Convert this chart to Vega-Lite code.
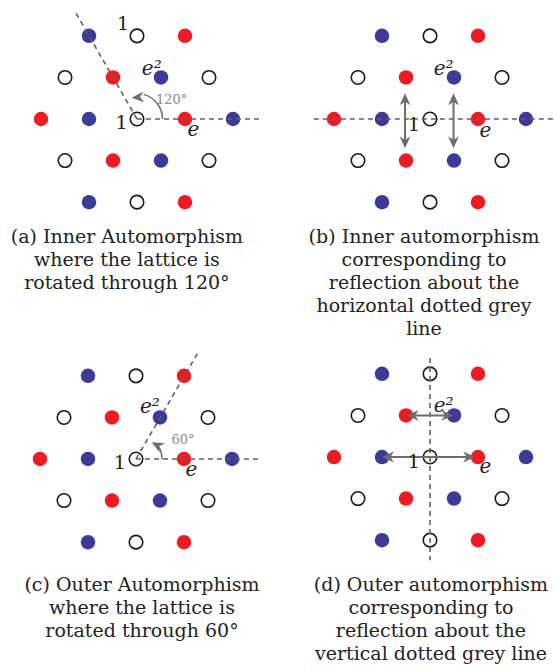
{
  "$schema": "https://vega.github.io/schema/vega-lite/v6.json",
  "padding": 0,
  "spacing": 0,
  "columns": 2,
  "bounds": "flush",
  "background": "white",
  "config": {"view": {"stroke": null}, "concat": {"spacing": 0}},
  "datasets": {
    "lattice": [
      {"x": -1, "y": 1.732, "kind": "blue"}, {"x": 0, "y": 1.732, "kind": "open"}, {"x": 1, "y": 1.732, "kind": "red"},
      {"x": -1.5, "y": 0.866, "kind": "open"}, {"x": -0.5, "y": 0.866, "kind": "red"}, {"x": 0.5, "y": 0.866, "kind": "blue"}, {"x": 1.5, "y": 0.866, "kind": "open"},
      {"x": -2, "y": 0, "kind": "red"}, {"x": -1, "y": 0, "kind": "blue"}, {"x": 0, "y": 0, "kind": "open"}, {"x": 1, "y": 0, "kind": "red"}, {"x": 2, "y": 0, "kind": "blue"},
      {"x": -1.5, "y": -0.866, "kind": "open"}, {"x": -0.5, "y": -0.866, "kind": "red"}, {"x": 0.5, "y": -0.866, "kind": "blue"}, {"x": 1.5, "y": -0.866, "kind": "open"},
      {"x": -1, "y": -1.732, "kind": "blue"}, {"x": 0, "y": -1.732, "kind": "open"}, {"x": 1, "y": -1.732, "kind": "red"}
    ]
  },
  "concat": [
    {
      "width": 277, "height": 335,
      "encoding": {
        "x": {"field": "x", "type": "quantitative", "scale": {"domain": [-2.8542, 2.9167], "nice": false, "zero": false}, "axis": null},
        "y": {"field": "y", "type": "quantitative", "scale": {"domain": [-4.5, 2.4792], "nice": false, "zero": false}, "axis": null}
      },
      "layer": [
        {"data": {"name": "lattice"}, "transform": [{"filter": "datum.kind !== 'open'"}], "mark": {"type": "point", "filled": true, "size": 210, "opacity": 1}, "encoding": {"color": {"field": "kind", "type": "nominal", "scale": {"domain": ["blue", "red"], "range": ["#3b3b98", "#ed1c24"]}, "legend": null}}},
        {"data": {"name": "lattice"}, "transform": [{"filter": "datum.kind === 'open'"}], "mark": {"type": "point", "filled": false, "size": 182, "color": "#1a1a1a", "strokeWidth": 1.6, "opacity": 1}},
        {"data": {"values": [{"x": 0, "y": 0, "x2": 2.62, "y2": 0}, {"x": 0, "y": 0, "x2": -1.275, "y2": 2.21}]}, "mark": {"type": "rule", "color": "#606060", "strokeWidth": 1.6, "strokeDash": [5, 4]}, "encoding": {"x2": {"field": "x2"}, "y2": {"field": "y2"}}},
        {"data": {"values": [{"x": 0, "y": 0}]}, "mark": {"type": "arc", "theta": 0.2618, "theta2": 1.5708, "radius": 25.5, "radius2": 25.5, "fillOpacity": 0, "stroke": "#6d6d6d", "strokeWidth": 1.5}},
        {"data": {"values": [{"x": -0.11, "y": 0.444, "dir": 176}]}, "mark": {"type": "point", "shape": "M0,0L-2,-0.9L-1.4,0L-2,0.9Z", "filled": true, "color": "#6d6d6d", "size": 144, "opacity": 1}, "encoding": {"angle": {"field": "dir", "type": "quantitative", "scale": null}}},
        {"data": {"values": [{"x": -0.29, "y": 1.854, "t": "1"}, {"x": -0.32, "y": -0.21, "t": "1"}]}, "mark": {"type": "text", "font": "DejaVu Serif", "fontSize": 19, "align": "center", "baseline": "alphabetic", "color": "#222222"}, "encoding": {"text": {"field": "t"}}},
        {"data": {"values": [{"x": 1.05, "y": -0.35, "t": "e"}, {"x": 0.1, "y": 0.917, "t": "e²"}]}, "mark": {"type": "text", "font": "DejaVu Serif", "fontStyle": "italic", "fontSize": 20, "align": "left", "baseline": "alphabetic", "color": "#222222"}, "encoding": {"text": {"field": "t"}}},
        {"data": {"values": [{"x": 0.72, "y": 0.31, "t": "120°"}]}, "mark": {"type": "text", "font": "DejaVu Serif", "fontSize": 13, "align": "center", "baseline": "alphabetic", "color": "#8a8a8a"}, "encoding": {"text": {"field": "t"}}},
        {"data": {"values": [{"x": -0.21, "y": -2.458, "t": "(a) Inner Automorphism\nwhere the lattice is\nrotated through 120°"}]}, "mark": {"type": "text", "font": "DejaVu Serif", "fontSize": 19, "lineBreak": "\n", "lineHeight": 23, "align": "center", "baseline": "middle", "color": "#222222"}, "encoding": {"text": {"field": "t"}}}
      ]
    },
    {
      "width": 277, "height": 335,
      "encoding": {
        "x": {"field": "x", "type": "quantitative", "scale": {"domain": [-3.1875, 2.5833], "nice": false, "zero": false}, "axis": null},
        "y": {"field": "y", "type": "quantitative", "scale": {"domain": [-4.5, 2.4792], "nice": false, "zero": false}, "axis": null}
      },
      "layer": [
        {"data": {"name": "lattice"}, "transform": [{"filter": "datum.kind !== 'open'"}], "mark": {"type": "point", "filled": true, "size": 210, "opacity": 1}, "encoding": {"color": {"field": "kind", "type": "nominal", "scale": {"domain": ["blue", "red"], "range": ["#3b3b98", "#ed1c24"]}, "legend": null}}},
        {"data": {"name": "lattice"}, "transform": [{"filter": "datum.kind === 'open'"}], "mark": {"type": "point", "filled": false, "size": 182, "color": "#1a1a1a", "strokeWidth": 1.6, "opacity": 1}},
        {"data": {"values": [{"x": -2.42, "y": 0, "x2": 2.583, "y2": 0}]}, "mark": {"type": "rule", "color": "#606060", "strokeWidth": 1.6, "strokeDash": [5, 4]}, "encoding": {"x2": {"field": "x2"}, "y2": {"field": "y2"}}},
        {"data": {"values": [{"x": -0.52, "y": 0.45, "x2": -0.52, "y2": -0.52}, {"x": 0.49, "y": 0.45, "x2": 0.49, "y2": -0.52}]}, "mark": {"type": "rule", "color": "#6d6d6d", "strokeWidth": 2}, "encoding": {"x2": {"field": "x2"}, "y2": {"field": "y2"}}},
        {"data": {"values": [{"x": -0.52, "y": 0.535, "dir": 270}, {"x": -0.52, "y": -0.61, "dir": 90}, {"x": 0.49, "y": 0.535, "dir": 270}, {"x": 0.49, "y": -0.61, "dir": 90}]}, "mark": {"type": "point", "shape": "M0,0L-2,-0.9L-1.4,0L-2,0.9Z", "filled": true, "color": "#6d6d6d", "size": 144, "opacity": 1}, "encoding": {"angle": {"field": "dir", "type": "quantitative", "scale": null}}},
        {"data": {"values": [{"x": -0.34, "y": -0.24, "t": "1"}]}, "mark": {"type": "text", "font": "DejaVu Serif", "fontSize": 19, "align": "center", "baseline": "alphabetic", "color": "#222222"}, "encoding": {"text": {"field": "t"}}},
        {"data": {"values": [{"x": 1.03, "y": -0.37, "t": "e"}, {"x": 0.077, "y": 0.917, "t": "e²"}]}, "mark": {"type": "text", "font": "DejaVu Serif", "fontStyle": "italic", "fontSize": 20, "align": "left", "baseline": "alphabetic", "color": "#222222"}, "encoding": {"text": {"field": "t"}}},
        {"data": {"values": [{"x": -0.125, "y": -2.458, "t": "(b) Inner automorphism\ncorresponding to\nreflection about the\nhorizontal dotted grey\nline"}]}, "mark": {"type": "text", "font": "DejaVu Serif", "fontSize": 19, "lineBreak": "\n", "lineHeight": 23, "align": "center", "baseline": "middle", "color": "#222222"}, "encoding": {"text": {"field": "t"}}}
      ]
    },
    {
      "width": 277, "height": 336,
      "encoding": {
        "x": {"field": "x", "type": "quantitative", "scale": {"domain": [-2.8333, 2.9375], "nice": false, "zero": false}, "axis": null},
        "y": {"field": "y", "type": "quantitative", "scale": {"domain": [-4.4167, 2.5833], "nice": false, "zero": false}, "axis": null}
      },
      "layer": [
        {"data": {"name": "lattice"}, "transform": [{"filter": "datum.kind !== 'open'"}], "mark": {"type": "point", "filled": true, "size": 210, "opacity": 1}, "encoding": {"color": {"field": "kind", "type": "nominal", "scale": {"domain": ["blue", "red"], "range": ["#3b3b98", "#ed1c24"]}, "legend": null}}},
        {"data": {"name": "lattice"}, "transform": [{"filter": "datum.kind === 'open'"}], "mark": {"type": "point", "filled": false, "size": 182, "color": "#1a1a1a", "strokeWidth": 1.6, "opacity": 1}},
        {"data": {"values": [{"x": 0, "y": 0, "x2": 2.62, "y2": 0}, {"x": 0, "y": 0, "x2": 1.31, "y2": 2.25}]}, "mark": {"type": "rule", "color": "#606060", "strokeWidth": 1.6, "strokeDash": [5, 4]}, "encoding": {"x2": {"field": "x2"}, "y2": {"field": "y2"}}},
        {"data": {"values": [{"x": 0, "y": 0}]}, "mark": {"type": "arc", "theta": 1.0996, "theta2": 1.5708, "radius": 26, "radius2": 26, "fillOpacity": 0, "stroke": "#6d6d6d", "strokeWidth": 1.5}},
        {"data": {"values": [{"x": 0.327, "y": 0.348, "dir": 208}]}, "mark": {"type": "point", "shape": "M0,0L-2,-0.9L-1.4,0L-2,0.9Z", "filled": true, "color": "#6d6d6d", "size": 144, "opacity": 1}, "encoding": {"angle": {"field": "dir", "type": "quantitative", "scale": null}}},
        {"data": {"values": [{"x": -0.34, "y": -0.215, "t": "1"}]}, "mark": {"type": "text", "font": "DejaVu Serif", "fontSize": 19, "align": "center", "baseline": "alphabetic", "color": "#222222"}, "encoding": {"text": {"field": "t"}}},
        {"data": {"values": [{"x": 1.03, "y": -0.354, "t": "e"}, {"x": 0.083, "y": 0.95, "t": "e²"}]}, "mark": {"type": "text", "font": "DejaVu Serif", "fontStyle": "italic", "fontSize": 20, "align": "left", "baseline": "alphabetic", "color": "#222222"}, "encoding": {"text": {"field": "t"}}},
        {"data": {"values": [{"x": 0.98, "y": 0.31, "t": "60°"}]}, "mark": {"type": "text", "font": "DejaVu Serif", "fontSize": 13, "align": "center", "baseline": "alphabetic", "color": "#8a8a8a"}, "encoding": {"text": {"field": "t"}}},
        {"data": {"values": [{"x": 0.125, "y": -2.625, "t": "(c) Outer Automorphism\nwhere the lattice is\nrotated through 60°"}]}, "mark": {"type": "text", "font": "DejaVu Serif", "fontSize": 19, "lineBreak": "\n", "lineHeight": 23, "align": "center", "baseline": "middle", "color": "#222222"}, "encoding": {"text": {"field": "t"}}}
      ]
    },
    {
      "width": 277, "height": 336,
      "encoding": {
        "x": {"field": "x", "type": "quantitative", "scale": {"domain": [-3.1875, 2.5833], "nice": false, "zero": false}, "axis": null},
        "y": {"field": "y", "type": "quantitative", "scale": {"domain": [-4.4583, 2.5417], "nice": false, "zero": false}, "axis": null}
      },
      "layer": [
        {"data": {"name": "lattice"}, "transform": [{"filter": "datum.kind !== 'open'"}], "mark": {"type": "point", "filled": true, "size": 210, "opacity": 1}, "encoding": {"color": {"field": "kind", "type": "nominal", "scale": {"domain": ["blue", "red"], "range": ["#3b3b98", "#ed1c24"]}, "legend": null}}},
        {"data": {"name": "lattice"}, "transform": [{"filter": "datum.kind === 'open'"}], "mark": {"type": "point", "filled": false, "size": 182, "color": "#1a1a1a", "strokeWidth": 1.6, "opacity": 1}},
        {"data": {"values": [{"x": 0, "y": 2.06, "x2": 0, "y2": -2.15}]}, "mark": {"type": "rule", "color": "#606060", "strokeWidth": 1.6, "strokeDash": [5, 4]}, "encoding": {"x2": {"field": "x2"}, "y2": {"field": "y2"}}},
        {"data": {"values": [{"x": -0.4, "y": 0.866, "x2": 0.4, "y2": 0.866}, {"x": -0.9, "y": 0, "x2": 0.85, "y2": 0}]}, "mark": {"type": "rule", "color": "#6d6d6d", "strokeWidth": 2}, "encoding": {"x2": {"field": "x2"}, "y2": {"field": "y2"}}},
        {"data": {"values": [{"x": -0.486, "y": 0.866, "dir": 180}, {"x": 0.486, "y": 0.866, "dir": 0}, {"x": -1.0, "y": 0, "dir": 180}, {"x": 0.94, "y": 0, "dir": 0}]}, "mark": {"type": "point", "shape": "M0,0L-2,-0.9L-1.4,0L-2,0.9Z", "filled": true, "color": "#6d6d6d", "size": 144, "opacity": 1}, "encoding": {"angle": {"field": "dir", "type": "quantitative", "scale": null}}},
        {"data": {"values": [{"x": -0.34, "y": -0.235, "t": "1"}]}, "mark": {"type": "text", "font": "DejaVu Serif", "fontSize": 19, "align": "center", "baseline": "alphabetic", "color": "#222222"}, "encoding": {"text": {"field": "t"}}},
        {"data": {"values": [{"x": 1.03, "y": -0.34, "t": "e"}, {"x": 0.077, "y": 0.94, "t": "e²"}]}, "mark": {"type": "text", "font": "DejaVu Serif", "fontStyle": "italic", "fontSize": 20, "align": "left", "baseline": "alphabetic", "color": "#222222"}, "encoding": {"text": {"field": "t"}}},
        {"data": {"values": [{"x": 0.02, "y": -2.667, "t": "(d) Outer automorphism\ncorresponding to\nreflection about the\nvertical dotted grey line"}]}, "mark": {"type": "text", "font": "DejaVu Serif", "fontSize": 19, "lineBreak": "\n", "lineHeight": 23, "align": "center", "baseline": "middle", "color": "#222222"}, "encoding": {"text": {"field": "t"}}}
      ]
    }
  ]
}
